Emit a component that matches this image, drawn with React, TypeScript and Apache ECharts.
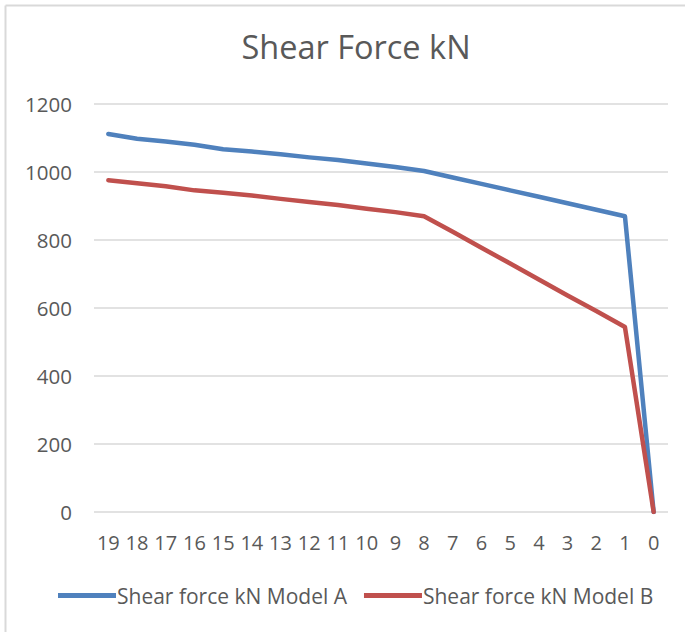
import React, { useEffect, useRef } from "react";
import * as echarts from "echarts";

const categories = ["19","18","17","16","15","14","13","12","11","10","9","8","7","6","5","4","3","2","1","0"];
const modelA = [1112, 1098, 1090, 1080, 1067, 1060, 1052, 1043, 1035, 1025, 1015, 1003, 984, 965, 946, 927, 908, 889, 870, 0];
const modelB = [976, 967, 958, 946, 939, 931, 921, 912, 903, 892, 882, 870, 824, 777, 731, 684, 637, 591, 544, 0];
const seriesNames = ["Shear force kN Model A", "Shear force kN Model B"];
const titleText = "Shear Force kN";

const FONT = "'Open Sans', Lato, sans-serif";
const TXT = "#595959";

export default function App() {
  const ref = useRef<HTMLDivElement>(null);
  useEffect(() => {
    if (!ref.current) return;
    const chart = echarts.init(ref.current, undefined, { renderer: "svg" });
    chart.setOption({
      animation: false,
      backgroundColor: "#ffffff",
      title: {
        text: titleText,
        left: 351,
        top: 25,
        textAlign: "center",
        textStyle: { fontFamily: FONT, fontSize: 32.5, fontWeight: "normal", color: TXT },
      },
      legend: {
        bottom: 21,
        left: 53,
        itemWidth: 58,
        itemHeight: 5,
        itemGap: 17,
        icon: "rect",
        textStyle: { fontFamily: FONT, fontSize: 21, color: TXT, padding: [0, 0, 0, -4] },
        data: seriesNames,
      },
      grid: { left: 94, right: 17, top: 104, bottom: 120, containLabel: false },
      xAxis: {
        type: "category",
        data: categories,
        boundaryGap: true,
        axisLine: { show: false },
        axisTick: { show: false },
        axisLabel: { fontFamily: FONT, fontSize: 20, color: TXT, margin: 20, interval: 0 },
      },
      yAxis: {
        type: "value",
        min: 0,
        max: 1200,
        interval: 200,
        axisLine: { show: false },
        axisTick: { show: false },
        splitLine: { lineStyle: { color: "#d9d9d9", width: 1.5 } },
        axisLabel: { fontFamily: FONT, fontSize: 20.5, color: TXT, margin: 22, formatter: (v: number) => String(v) },
      },
      series: [
        {
          name: seriesNames[0],
          type: "line",
          data: modelA,
          symbol: "none",
          lineStyle: { color: "#4f81bd", width: 4.5, cap: "round", join: "round" },
          itemStyle: { color: "#4f81bd" },
        },
        {
          name: seriesNames[1],
          type: "line",
          data: modelB,
          symbol: "none",
          lineStyle: { color: "#c0504d", width: 4.5, cap: "round", join: "round" },
          itemStyle: { color: "#c0504d" },
        },
      ],
      graphic: [
        { type: "line", shape: { x1: 5.5, y1: 5.5, x2: 685, y2: 5.5 }, style: { stroke: "#d9d9d9", lineWidth: 2 } },
        { type: "line", shape: { x1: 5.5, y1: 5.5, x2: 5.5, y2: 632 }, style: { stroke: "#d9d9d9", lineWidth: 2 } },
      ],
    });
    return () => chart.dispose();
  }, []);
  return <div ref={ref} style={{ position: "fixed", left: 0, top: 0, width: 685, height: 632 }} />;
}
